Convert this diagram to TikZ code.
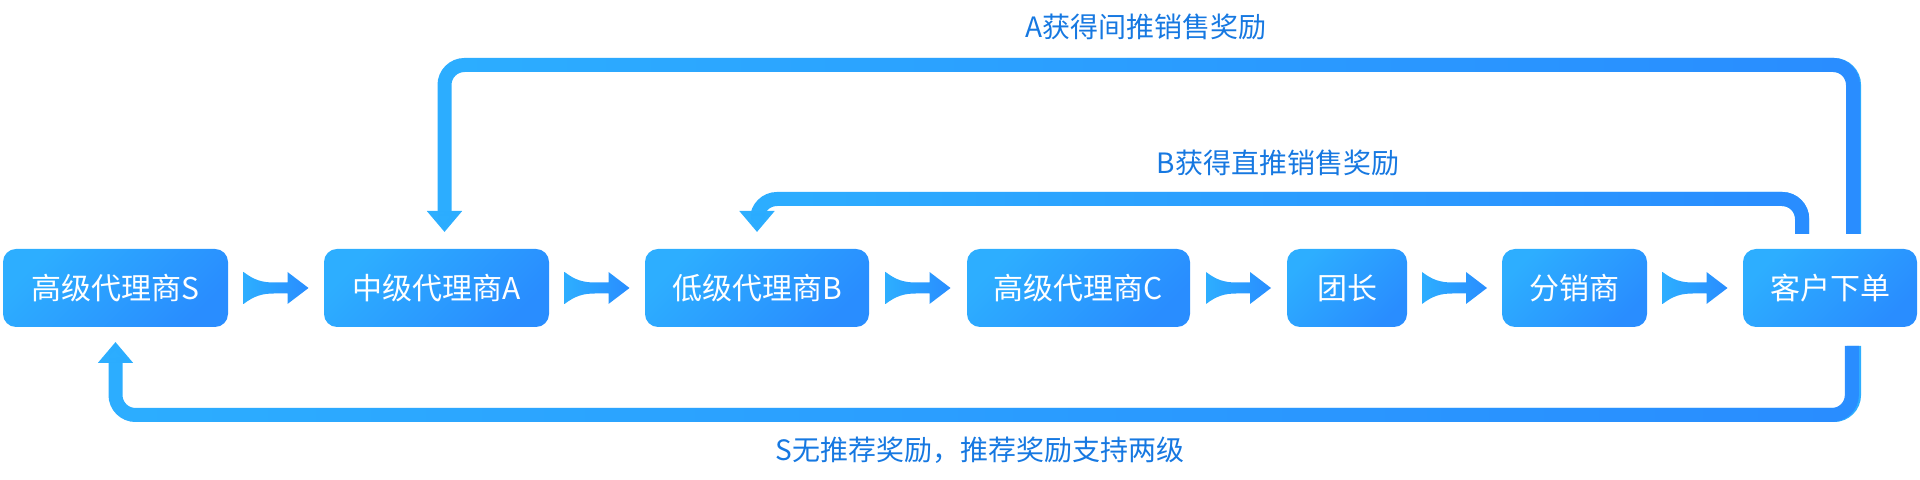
\documentclass[tikz,border=0pt]{standalone}
\usepackage{fontspec}
\newfontfamily\cjk{Noto Sans CJK SC}
\usetikzlibrary{positioning,calc,arrows.meta,fadings}
\definecolor{lblue}{RGB}{45,174,255}
\definecolor{dblue}{RGB}{41,141,255}
\definecolor{labblue}{RGB}{22,120,225}
\tikzfading[name=fadeleft, left color=transparent!100, right color=transparent!0]
\tikzset{
  stage/.style={rounded corners=6.5pt, minimum height=39pt, inner sep=0pt, outer sep=0pt,
    left color=lblue, right color=dblue, shading angle=45,
    text=white, font=\cjk\fontsize{15pt}{18pt}\selectfont},
  note/.style={text=labblue, inner sep=0pt, font=\cjk\fontsize{14pt}{17pt}\selectfont},
  loopbase/.style={line width=7pt, rounded corners=10pt,
    -{Triangle[width=17pt,length=10.5pt]}},
  loopleft/.style={loopbase, draw=lblue},
  loopright/.style={loopbase, draw=dblue, path fading=fadeleft},
  flowarrow/.pic={
    \shade[left color=lblue, right color=dblue]
      (-32.5,16) .. controls (-22,8) and (-14,5.5) .. (-2,5.5) -- (11.5,5.5)
      -- (11.5,16) -- (32.5,0) -- (11.5,-16) -- (11.5,-5.5) -- (-2,-5.5)
      .. controls (-14,-5.5) and (-22,-8) .. (-32.5,-16) -- cycle;
  }
}
\begin{document}
\begin{tikzpicture}[x=0.5pt, y=0.5pt]
  \useasboundingbox (0,0) rectangle (1920,480);

  % stages
  \node[stage, minimum width=112.5pt] (nS) at (115.5,192) {高级代理商S};
  \node[stage, minimum width=112.5pt, right=48pt of nS] (nA) {中级代理商A};
  \node[stage, minimum width=112pt, right=48pt of nA] (nB) {低级代理商B};
  \node[stage, minimum width=111.5pt, right=49pt of nB] (nC) {高级代理商C};
  \node[stage, minimum width=60pt, right=48.5pt of nC] (nTuan) {团长};
  \node[stage, minimum width=72.5pt, right=47.5pt of nTuan] (nFen) {分销商};
  \node[stage, minimum width=87pt, right=48pt of nFen] (nKehu) {客户下单};

  \foreach \a/\b in {nS/nA, nA/nB, nB/nC, nC/nTuan, nTuan/nFen, nFen/nKehu}
    \pic at ($(\a.east)!0.5!(\b.west)$) {flowarrow};

  % reward loops
  \foreach \sty in {loopleft, loopright}{
    \draw[\sty] ($(nKehu.north)+(24,15)$) -- ++(0,169) -| ($(nA.north)+(8,17)$);
    \draw[\sty] ($(nKehu.north)+(-28,15)$) -- ++(0,35) -| ($(nB.north)+(0,17)$);
    \draw[\sty] ($(nKehu.south)+(24,-19)$) -- ++(0,-69) -| ($(nS.south)+(0,-15)$);
  }

  \node[note] (labA) at (1146,453) {A获得间推销售奖励};
  \node[note] (labB) at (1278,317) {B获得直推销售奖励};
  \node[note] (labS) at (980,30) {S无推荐奖励，推荐奖励支持两级};
\end{tikzpicture}
\end{document}
